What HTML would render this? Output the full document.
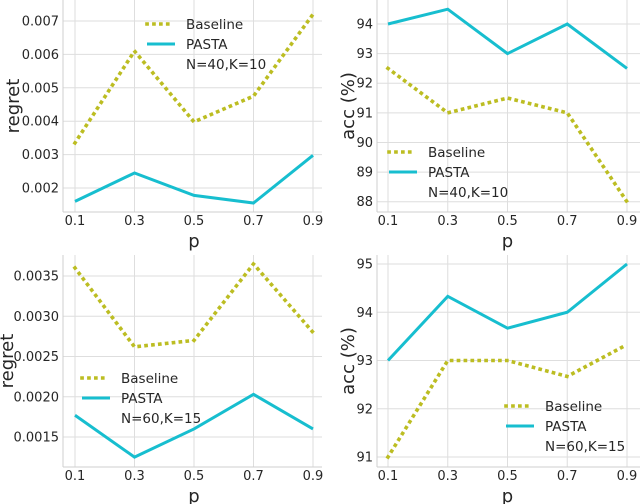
<!DOCTYPE html>
<html><head><meta charset="utf-8"><style>
body{margin:0;background:#fff}
svg{display:block;font-family:"DejaVu Sans","Liberation Sans",sans-serif}
</style></head><body>
<svg id="c" width="640" height="504"></svg>
<script>
const ps=[0.1,0.3,0.5,0.7,0.9];
const tlBase=[0.00335,0.0061,0.00398,0.00475,0.0072];
const tlPasta=[0.0016,0.00245,0.00178,0.00155,0.00298];
const trBase=[92.5,91,91.5,91,88];
const trPasta=[94,94.5,93,94,92.5];
const blBase=[0.0036,0.00262,0.0027,0.00365,0.0028];
const blPasta=[0.00177,0.00125,0.0016,0.00203,0.0016];
const brBase=[91,93,93,92.67,93.33];
const brPasta=[93,94.33,93.67,94,95];
const tlTicks=[0.002,0.003,0.004,0.005,0.006,0.007];
const trTicks=[88,89,90,91,92,93,94];
const blTicks=[0.0015,0.002,0.0025,0.003,0.0035];
const brTicks=[91,92,93,94,95];
const xTicks=["0.1","0.3","0.5","0.7","0.9"];
const ns="http://www.w3.org/2000/svg";
const svg=document.getElementById('c');
function mk(t,a,p){const e=document.createElementNS(ns,t);for(const k in a)e.setAttribute(k,a[k]);(p||svg).appendChild(e);return e;}
function panel(o){
 const g=mk('g',{});
 
 
 const X=v=>o.x0+(v-0.1)/0.8*(o.x1-o.x0);
 const Y=v=>o.ya+(v-o.va)/(o.vb-o.va)*(o.yb-o.ya);
 mk('rect',{x:o.L,y:o.T,width:o.R-o.L,height:o.B-o.T,fill:'#fff'},g);
 ps.forEach((p,i)=>{mk('line',{x1:X(p),x2:X(p),y1:o.T,y2:o.B,stroke:'#dedede','stroke-width':1},g);
  const t=mk('text',{x:X(p),y:o.B+13,'text-anchor':'middle','font-size':13,fill:'#262626'},g);t.textContent=xTicks[i];
  
  });
 o.ticks.forEach(v=>{mk('line',{x1:o.L,x2:o.R,y1:Y(v),y2:Y(v),stroke:'#dedede','stroke-width':1},g);
  const t=mk('text',{x:o.L-4,y:Y(v)+4.5,'text-anchor':'end','font-size':13,fill:'#262626'},g);t.textContent=o.fmt(v);
  
  });
 mk('line',{x1:o.L,x2:o.L,y1:o.T,y2:o.B,stroke:'#cfcfcf'},g);
 mk('line',{x1:o.L,x2:o.R,y1:o.B,y2:o.B,stroke:'#cfcfcf'},g);
 const bp=o.base.map((v,i)=>X(ps[i])+','+Y(v)).join(' ');
 const b=mk('polyline',{points:bp,fill:'none',stroke:'#bcbd22','stroke-width':3.6,'stroke-dasharray':'0.1 6.8','stroke-linecap':'square'},g);
 
 
 const pp=o.pasta.map((v,i)=>X(ps[i])+','+Y(v)).join(' ');
 const q=mk('polyline',{points:pp,fill:'none',stroke:'#17becf','stroke-width':3,'stroke-linejoin':'miter'},g);
 
 
 const xl=mk('text',{x:(o.x0+o.x1)/2,y:o.B+35,'text-anchor':'middle','font-size':18,fill:'#262626'},g);xl.textContent='p';
 
 
 const yl=mk('text',{x:0,y:0,'text-anchor':'middle','font-size':18,fill:'#262626',transform:`translate(${o.ylx},${(o.T+o.B)/2}) rotate(-90)`},g);yl.textContent=o.ylab;
 
 
 const lg=mk('g',{},g);
 
 
 mk('line',{x1:o.lx,x2:o.lx+26,y1:o.ly,y2:o.ly,stroke:'#bcbd22','stroke-width':3.6,'stroke-dasharray':'0.1 6.8','stroke-linecap':'square'},lg);
 mk('line',{x1:o.lx,x2:o.lx+28,y1:o.ly+20,y2:o.ly+20,stroke:'#17becf','stroke-width':3},lg);
 [['Baseline',0],['PASTA',20],[o.cfg,40]].forEach(([s,d])=>{const t=mk('text',{x:o.lx+39,y:o.ly+d+5,'font-size':13.5,fill:'#262626'},lg);t.textContent=s;
  
  });
}
panel({name:'panel-regret-n40',L:63,R:322,T:0,B:212,x0:75,x1:313,va:0.007,ya:21,vb:0.002,yb:188,ticks:tlTicks,fmt:v=>v.toFixed(3),base:tlBase,pasta:tlPasta,ylab:'regret',ylx:19,lx:147,ly:24,cfg:'N=40,K=10'});
panel({name:'panel-acc-n40',L:377,R:640,T:0,B:212,x0:388,x1:627,va:94,ya:24,vb:88,yb:201.7,ticks:trTicks,fmt:v=>String(v),base:trBase,pasta:trPasta,ylab:'acc (%)',ylx:354,lx:389,ly:152,cfg:'N=40,K=10'});
panel({name:'panel-regret-n60',L:63,R:322,T:255,B:467,x0:75,x1:313,va:0.0035,ya:276,vb:0.0015,yb:437,ticks:blTicks,fmt:v=>v.toFixed(4),base:blBase,pasta:blPasta,ylab:'regret',ylx:13,lx:82,ly:378,cfg:'N=60,K=15'});
panel({name:'panel-acc-n60',L:377,R:640,T:255,B:467,x0:388,x1:627,va:95,ya:264,vb:91,yb:457,ticks:brTicks,fmt:v=>String(v),base:brBase,pasta:brPasta,ylab:'acc (%)',ylx:354,lx:506,ly:406,cfg:'N=60,K=15'});
</script>
</body></html>
